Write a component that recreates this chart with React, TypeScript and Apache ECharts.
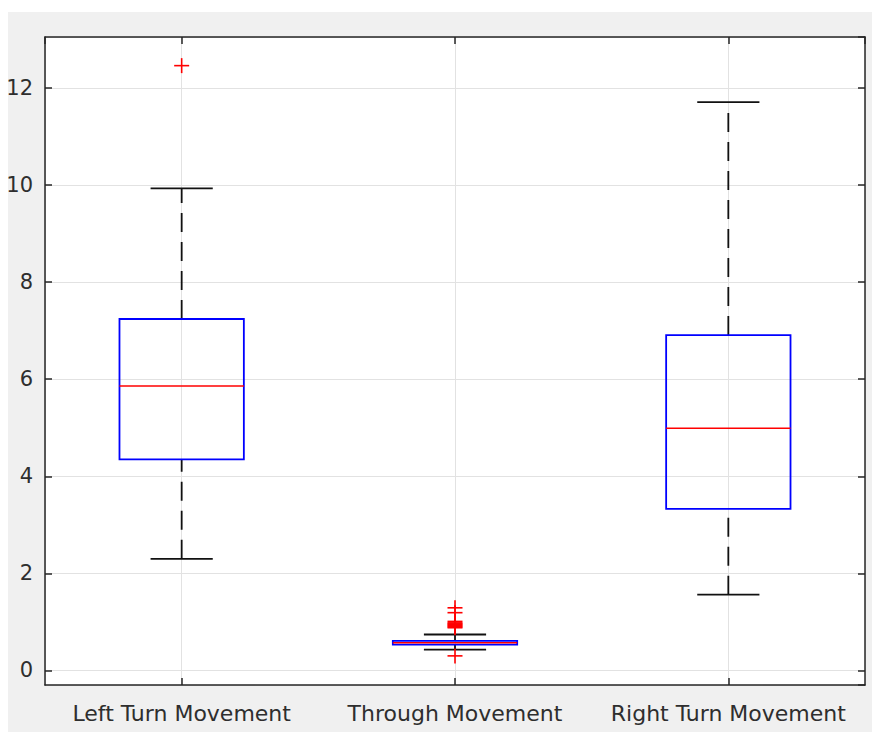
import React, { useEffect, useRef } from "react";
import * as echarts from "echarts";

const categories = ["Left Turn Movement", "Through Movement", "Right Turn Movement"];
const lowerWhisker = [2.3, 0.43, 1.56];
const q1 = [4.35, 0.53, 3.33];
const median = [5.86, 0.57, 4.99];
const q3 = [7.24, 0.61, 6.91];
const upperWhisker = [9.93, 0.74, 11.71];
const outliersLeft = [12.46];
const outliersThrough = [1.29, 1.19, 1.01, 0.98, 0.96, 0.94, 0.92, 0.9, 0.88, 0.3];
const outliersRight: number[] = [];
const yTicks = [0, 2, 4, 6, 8, 10, 12];

const AXIS = "#262626";
const TEXT = "#2e2e2e";
const GRID = "#e2e2e2";
const FONT = "DejaVu Sans";

export default function App() {
  const ref = useRef<HTMLDivElement>(null);
  useEffect(() => {
    if (!ref.current) return;
    document.body.style.margin = "0";
    document.body.style.overflow = "hidden";
    document.documentElement.style.overflow = "hidden";
    const chart = echarts.init(ref.current, undefined, { renderer: "svg" });

    const boxData = categories.map((_, i) => [
      i + 1,
      lowerWhisker[i],
      q1[i],
      median[i],
      q3[i],
      upperWhisker[i],
    ]);
    const outlierData: number[][] = [];
    [outliersLeft, outliersThrough, outliersRight].forEach((arr, i) =>
      arr.forEach((v) => outlierData.push([i + 1, v]))
    );

    const xCommon = {
      type: "value",
      min: 0.5,
      max: 3.5,
      minInterval: 1,
      maxInterval: 1,
      axisLine: { show: true, onZero: false, lineStyle: { color: AXIS, width: 1.5 } },
      axisTick: { show: true, inside: true, length: 7, lineStyle: { color: AXIS, width: 1.5 } },
    };
    const yCommon = {
      type: "value",
      min: -0.3,
      max: 13.05,
      splitNumber: 7,
      minInterval: 2,
      maxInterval: 2,
      axisLine: { show: true, onZero: false, lineStyle: { color: AXIS, width: 1.5 } },
      axisTick: { show: true, inside: true, length: 7, lineStyle: { color: AXIS, width: 1.5 } },
    };

    chart.setOption({
      animation: false,
      backgroundColor: "transparent",
      grid: {
        left: 45,
        right: 7,
        top: 37,
        bottom: 47,
        show: true,
        backgroundColor: "#ffffff",
        borderWidth: 0,
      },
      xAxis: [
        {
          ...xCommon,
          position: "bottom",
          splitLine: { show: true, lineStyle: { color: GRID, width: 1 } },
          axisLabel: {
            show: true,
            showMinLabel: false,
            showMaxLabel: false,
            margin: 17,
            fontSize: 22,
            fontFamily: FONT,
            color: TEXT,
            formatter: (v: number) => {
              const idx = Math.round(v) - 1;
              return Math.abs(v - Math.round(v)) < 1e-6 && categories[idx] ? categories[idx] : "";
            },
          },
        },
        {
          ...xCommon,
          position: "top",
          splitLine: { show: false },
          axisLabel: { show: false },
        },
      ],
      yAxis: [
        {
          ...yCommon,
          position: "left",
          splitLine: { show: true, lineStyle: { color: GRID, width: 1 } },
          axisLabel: {
            show: true,
            showMinLabel: false,
            showMaxLabel: false,
            margin: 12,
            fontSize: 21,
            fontFamily: FONT,
            color: TEXT,
            formatter: (v: number) => (yTicks.indexOf(v) >= 0 ? String(v) : ""),
          },
        },
        {
          ...yCommon,
          position: "right",
          splitLine: { show: false },
          axisLabel: { show: false },
        },
      ],
      series: [
        {
          type: "custom",
          xAxisIndex: 0,
          yAxisIndex: 0,
          encode: { x: 0, y: [1, 2, 3, 4, 5] },
          data: boxData,
          z: 5,
          renderItem: (params: any, api: any) => {
            const x = api.value(0);
            const lo = api.coord([x, api.value(1)]);
            const b1 = api.coord([x, api.value(2)]);
            const md = api.coord([x, api.value(3)]);
            const b3 = api.coord([x, api.value(4)]);
            const hi = api.coord([x, api.value(5)]);
            const band = api.size([1, 0])[0];
            const boxW = band * 0.455;
            const capW = boxW / 2;
            const cx = lo[0];
            const dash = { stroke: "#111", lineWidth: 1.8, lineDash: [19, 10] };
            return {
              type: "group",
              children: [
                {
                  type: "line",
                  shape: { x1: cx, y1: b3[1], x2: cx, y2: hi[1] },
                  style: dash,
                },
                {
                  type: "line",
                  shape: { x1: cx, y1: lo[1], x2: cx, y2: b1[1] },
                  style: dash,
                },
                {
                  type: "line",
                  shape: { x1: cx - capW / 2, y1: hi[1], x2: cx + capW / 2, y2: hi[1] },
                  style: { stroke: "#111", lineWidth: 1.8 },
                },
                {
                  type: "line",
                  shape: { x1: cx - capW / 2, y1: lo[1], x2: cx + capW / 2, y2: lo[1] },
                  style: { stroke: "#111", lineWidth: 1.8 },
                },
                {
                  type: "rect",
                  shape: { x: cx - boxW / 2, y: b3[1], width: boxW, height: b1[1] - b3[1] },
                  style: { fill: "none", stroke: "#0000ff", lineWidth: 1.8 },
                },
                {
                  type: "line",
                  shape: { x1: cx - boxW / 2, y1: md[1], x2: cx + boxW / 2, y2: md[1] },
                  style: { stroke: "#ff0000", lineWidth: 1.6 },
                },
              ],
            };
          },
        },
        {
          type: "custom",
          xAxisIndex: 0,
          yAxisIndex: 0,
          encode: { x: 0, y: 1 },
          data: outlierData,
          z: 6,
          renderItem: (params: any, api: any) => {
            const p = api.coord([api.value(0), api.value(1)]);
            const h = 7.5;
            const st = { stroke: "#ff0000", lineWidth: 1.6 };
            return {
              type: "group",
              children: [
                { type: "line", shape: { x1: p[0] - h, y1: p[1], x2: p[0] + h, y2: p[1] }, style: st },
                { type: "line", shape: { x1: p[0], y1: p[1] - h, x2: p[0], y2: p[1] + h }, style: st },
              ],
            };
          },
        },
      ],
    });
    return () => chart.dispose();
  }, []);
  return (
    <div style={{ position: "fixed", left: 0, top: 0, width: 872, height: 732, background: "#ffffff", overflow: "hidden" }}>
      <div style={{ position: "absolute", left: 8, top: 12, width: 864, height: 720, background: "#f0f0f0" }} />
      <div
        ref={ref}
        style={{ position: "absolute", left: 0, top: 0, width: 872, height: 732 }}
      />
    </div>
  );
}
